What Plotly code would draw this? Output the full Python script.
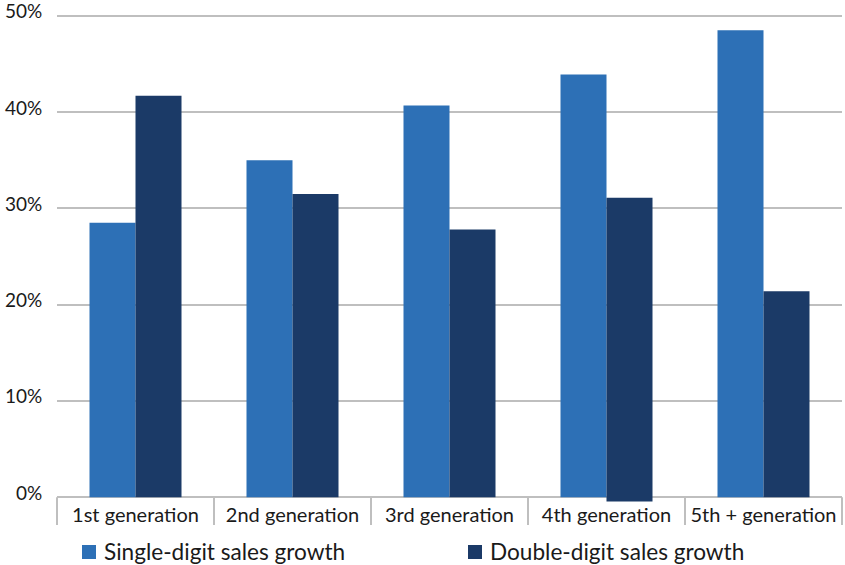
import plotly.graph_objects as go

# Sales growth by family-business generation (share of firms)
categories = ["1st generation", "2nd generation", "3rd generation", "4th generation", "5th + generation"]
single_digit = [28.5, 35.0, 40.7, 43.9, 48.5]
double_digit = [41.7, 31.5, 27.8, 31.1, 21.4]
double_base = [0, 0, 0, -0.45, 0]
y_ticks = [0, 10, 20, 30, 40, 50]
y_tick_labels = [f"{v}%" for v in y_ticks]
series_names = ["Single-digit sales growth", "Double-digit sales growth"]
series_colors = ["#2D70B6", "#1B3A67"]

FONT = "Lato"
INK = "#1A1A1A"
GRID = "#BFBFBF"
Y_MIN, Y_MAX = -0.5, 50.3

W, H = 845, 565
M_L, M_R, M_T, M_B = 57, 3, 13, 63
PW, PH = W - M_L - M_R, H - M_T - M_B


def px_to_paper_x(px):
    return (px - M_L) / PW


def px_to_paper_y(py):
    return (H - M_B - py) / PH


fig = go.Figure()
fig.add_trace(go.Bar(
    x=categories, y=single_digit, name=series_names[0],
    marker=dict(color=series_colors[0], line=dict(width=0)),
))
fig.add_trace(go.Bar(
    x=categories, y=[v - b for v, b in zip(double_digit, double_base)], base=double_base,
    name=series_names[1],
    marker=dict(color=series_colors[1], line=dict(width=0)),
))

# category boxes below the baseline
zero_paper = (0 - Y_MIN) / (Y_MAX - Y_MIN)
shapes = []
n = len(categories)
for i in range(n + 1):
    shapes.append(dict(type="line", xref="paper", yref="paper",
                       x0=i / n, x1=i / n, y0=zero_paper, y1=px_to_paper_y(525),
                       line=dict(color=GRID, width=2)))

annotations = []
# percentage labels sit just above their gridlines
for val, label in zip(y_ticks, y_tick_labels):
    annotations.append(dict(text=label, xref="paper", yref="y",
                            x=px_to_paper_x(44), y=val, yshift=5,
                            xanchor="right", yanchor="middle", showarrow=False,
                            font=dict(family=FONT, size=19, color=INK)))

# legend row under the category boxes
legend_left = [82, 468]
for name, color, left in zip(series_names, series_colors, legend_left):
    shapes.append(dict(type="rect", xref="paper", yref="paper",
                       x0=px_to_paper_x(left), x1=px_to_paper_x(left + 14),
                       y0=px_to_paper_y(559), y1=px_to_paper_y(545),
                       fillcolor=color, line=dict(width=0)))
    annotations.append(dict(text=name, xref="paper", yref="paper",
                            x=px_to_paper_x(left + 20), y=px_to_paper_y(551.5),
                            xanchor="left", yanchor="middle", showarrow=False,
                            font=dict(family=FONT, size=22.6, color=INK)))

fig.update_layout(
    width=W, height=H,
    margin=dict(l=M_L, r=M_R, t=M_T, b=M_B),
    paper_bgcolor="white", plot_bgcolor="white",
    barmode="group", bargap=0.414, bargroupgap=0,
    font=dict(family=FONT, size=18, color=INK),
    shapes=shapes, annotations=annotations,
    showlegend=False,
    xaxis=dict(type="category", range=[-0.5, n - 0.5], showgrid=False,
               showline=False, ticks="", ticklabelstandoff=-1, zeroline=False,
               tickfont=dict(family=FONT, size=20, color=INK)),
    yaxis=dict(range=[Y_MIN, Y_MAX], tickvals=y_ticks, showticklabels=False,
               showgrid=True, gridcolor=GRID, gridwidth=2,
               zeroline=True, zerolinecolor=GRID, zerolinewidth=2,
               showline=False, ticks=""),
)

fig.write_html("out.html")
